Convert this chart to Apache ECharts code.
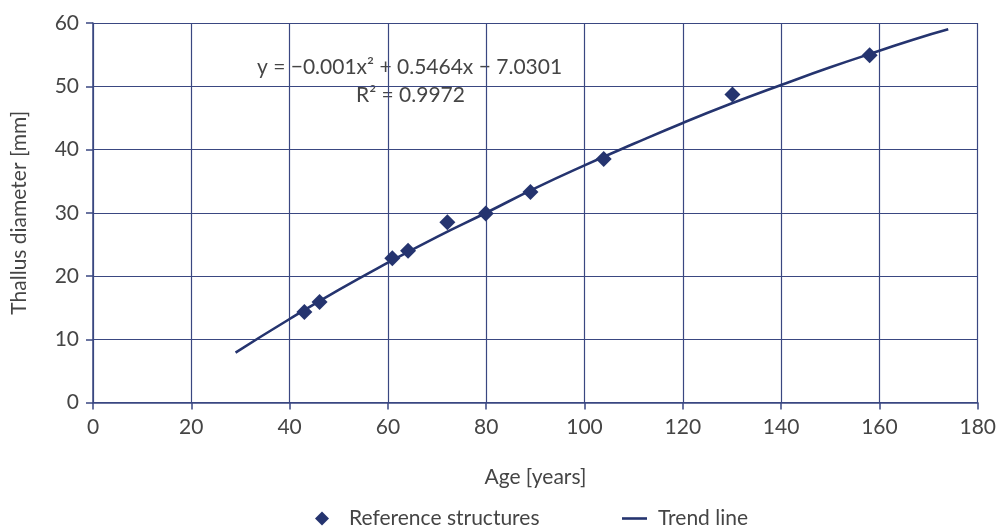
<!DOCTYPE html>
<html>
<head>
<meta charset="utf-8">
<script src="https://cdn.jsdelivr.net/npm/echarts@6/dist/echarts.min.js"></script>
<style>
html,body{margin:0;padding:0;background:#fff;}
#c{width:999px;height:532px;}
</style>
</head>
<body>
<div id="c"></div>
<script>
var ageValues = [43.0, 46.1, 60.9, 64.1, 72.1, 79.9, 89.0, 103.9, 130.1, 158.0];
var diameterValues = [14.3, 15.9, 22.8, 24.0, 28.5, 29.9, 33.3, 38.5, 48.7, 54.9];
var trendAges = [29, 40, 50, 60, 70, 80, 90, 100, 110, 120, 130, 140, 150, 160, 167, 174];
var trendValues = [7.9, 13.2, 17.8, 22.1, 26.2, 30.0, 33.9, 37.5, 40.9, 44.2, 47.3, 50.2, 53.0, 55.6, 57.4, 59.0];
var xTicks = [0, 20, 40, 60, 80, 100, 120, 140, 160, 180];
var yTicks = [0, 10, 20, 30, 40, 50, 60];
var equationText = 'y = −0.001x² + 0.5464x − 7.0301';
var r2Text = 'R² = 0.9972';

var navy = '#25346f';
var gridColor = '#3a4781';
var textColor = '#454545';
var font = 'Lato';
var fs = 21;

var chart = echarts.init(document.getElementById('c'));
var scatterData = ageValues.map(function (a, i) { return [a, diameterValues[i]]; });
var lineData = trendAges.map(function (a, i) { return [a, trendValues[i]]; });

chart.setOption({
  animation: false,
  backgroundColor: '#fff',
  textStyle: { fontFamily: font },
  grid: { left: 93, right: 19, top: 23, bottom: 129.5, containLabel: false },
  xAxis: {
    type: 'value',
    min: xTicks[0], max: xTicks[xTicks.length - 1], interval: 20,
    name: 'Age [years]', nameLocation: 'middle', nameGap: 64,
    nameTextStyle: { color: textColor, fontSize: fs, fontFamily: font },
    axisLine: { show: true, lineStyle: { color: gridColor, width: 1.5 } },
    axisTick: { show: true, length: 7, lineStyle: { color: gridColor, width: 1.5 } },
    axisLabel: { color: textColor, fontSize: fs, fontFamily: font, margin: 14 },
    splitLine: { show: true, lineStyle: { color: gridColor, width: 1.2 } }
  },
  yAxis: {
    type: 'value',
    min: yTicks[0], max: yTicks[yTicks.length - 1], interval: 10,
    name: 'Thallus diameter [mm]', nameLocation: 'middle', nameGap: 63, nameRotate: 90,
    nameTextStyle: { color: textColor, fontSize: fs, fontFamily: font },
    axisLine: { show: true, lineStyle: { color: gridColor, width: 1.5 } },
    axisTick: { show: true, length: 7, lineStyle: { color: gridColor, width: 1.5 } },
    axisLabel: { color: textColor, fontSize: fs, fontFamily: font, margin: 14 },
    splitLine: { show: true, lineStyle: { color: gridColor, width: 1.2 } }
  },
  legend: [
    {
      left: 315, top: 508, padding: 0, itemWidth: 14, itemHeight: 14,
      textStyle: { color: textColor, fontSize: fs, fontFamily: font, padding: [0, 0, 0, 15] },
      data: [{ name: 'Reference structures', icon: 'diamond', itemStyle: { color: navy, opacity: 1 } }]
    },
    {
      left: 622, top: 508, padding: 0, itemWidth: 25, itemHeight: 14,
      textStyle: { color: textColor, fontSize: fs, fontFamily: font, padding: [0, 0, 0, 6] },
      data: [{ name: 'Trend line', icon: 'path://M0,0 L25,0 L25,2.6 L0,2.6 Z', itemStyle: { color: navy } }]
    }
  ],
  graphic: [
    { type: 'text', left: 257, top: 57, style: { text: equationText, fill: textColor, font: fs + 'px Lato' } },
    { type: 'text', left: 356, top: 85, style: { text: r2Text, fill: textColor, font: fs + 'px Lato' } }
  ],
  series: [
    {
      name: 'Trend line', type: 'line', data: lineData, smooth: true, showSymbol: false,
      lineStyle: { color: navy, width: 2.6 }, itemStyle: { color: navy }, z: 3
    },
    {
      name: 'Reference structures', type: 'scatter', data: scatterData,
      symbol: 'diamond', symbolSize: [16, 16], itemStyle: { color: navy, opacity: 1 }, z: 4
    }
  ]
});
</script>
</body>
</html>
